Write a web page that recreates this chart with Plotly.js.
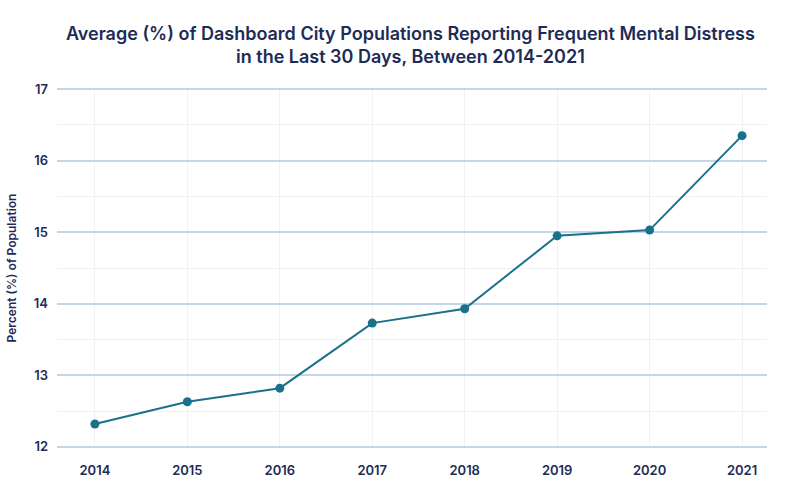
<!DOCTYPE html>
<html>
<head>
<meta charset="utf-8">
<script src="https://cdn.plot.ly/plotly-3.0.1.min.js"></script>
<style>html,body{margin:0;padding:0;background:#fff;}</style>
</head>
<body>
<div id="chart" style="width:800px;height:500px;"></div>
<script>
const years = [2014, 2015, 2016, 2017, 2018, 2019, 2020, 2021];
const percentDistress = [12.32, 12.63, 12.82, 13.73, 13.93, 14.95, 15.03, 16.35];
const yTicks = [12, 13, 14, 15, 16, 17];

const navy = '#1d2b57';
const trace = {
  x: years, y: percentDistress, type: 'scatter', mode: 'lines+markers',
  line: {color: '#19718c', width: 2},
  marker: {color: '#19718c', size: 9},
  hoverinfo: 'x+y'
};
const layout = {
  width: 800, height: 500,
  margin: {l: 57, r: 33, t: 87, b: 51},
  paper_bgcolor: '#fff', plot_bgcolor: '#fff',
  font: {family: 'Inter, Roboto, sans-serif', color: navy},
  title: {
    text: 'Average (%) of Dashboard City Populations Reporting Frequent Mental Distress<br>in the Last 30 Days, Between 2014-2021',
    font: {size: 18, color: navy, family: 'Inter, sans-serif', weight: 600},
    x: 0.513, xanchor: 'center', y: 0.92, yanchor: 'top'
  },
  xaxis: {
    range: [2013.59, 2021.27], tickvals: years, ticktext: years.map(String),
    showgrid: true, gridcolor: '#eef2f7', gridwidth: 1,
    zeroline: false, showline: false, ticks: '',
    tickfont: {size: 13, color: navy, weight: 600}, ticklabelstandoff: 12
  },
  yaxis: {
    range: [11.97, 17.03], tickvals: yTicks, ticktext: yTicks.map(String),
    showgrid: true, gridcolor: '#c3d6ec', gridwidth: 2,
    minor: {dtick: 0.5, showgrid: true, gridcolor: '#eef2f7', gridwidth: 1},
    zeroline: false, showline: false, ticks: '',
    tickfont: {size: 13, color: navy, weight: 600}, ticklabelstandoff: 8,
    title: {text: 'Percent (%) of Population', font: {size: 12, color: navy, weight: 600}, standoff: 14}
  },
  showlegend: false
};
Plotly.newPlot('chart', [trace], layout, {displayModeBar: false});
</script>
</body>
</html>
